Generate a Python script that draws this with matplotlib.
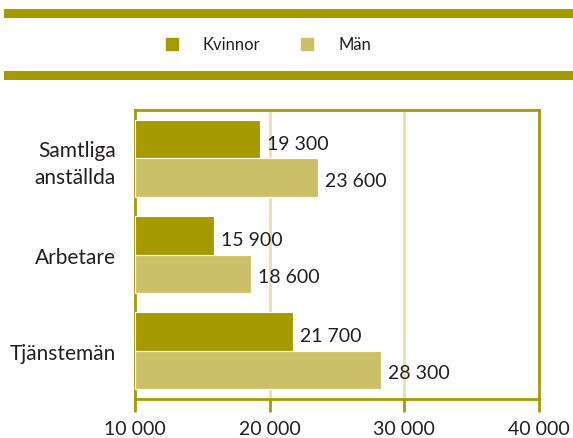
import matplotlib.pyplot as plt
import numpy as np

categories = ['Samtliga\nanställda', 'Arbetare', 'Tjänstemän']
kvinnor = [19300, 15900, 21700]
man = [23600, 18600, 28300]
x_ticks = [10000, 20000, 30000, 40000]
x_tick_labels = ['10 000', '20 000', '30 000', '40 000']

dark = '#A59A00'
light = '#CBC068'
grid_col = '#E8E1B0'
text_col = '#231F20'

plt.rcParams['font.family'] = ['Lato', 'DejaVu Sans']

fig = plt.figure(figsize=(5.73, 4.39), dpi=100)
W, H = 573, 439
ax = fig.add_axes([135 / W, 1 - 400 / H, (539 - 135) / W, (400 - 111) / H])

y = np.arange(len(categories))
h = 0.4
base = 10000
ax.barh(y - h / 2, np.array(kvinnor) - base, left=base, height=h, color=dark,
        edgecolor='white', linewidth=0.8, zorder=3)
ax.barh(y + h / 2, np.array(man) - base, left=base, height=h, color=light,
        edgecolor='white', linewidth=0.8, zorder=3)

def fmt(v):
    return f'{v:,}'.replace(',', ' ')

for i in range(len(categories)):
    ax.annotate(fmt(kvinnor[i]), (kvinnor[i], y[i] - h / 2), xytext=(5, -3),
                textcoords='offset points', va='center', ha='left',
                fontsize=14, color=text_col, zorder=4)
    ax.annotate(fmt(man[i]), (man[i], y[i] + h / 2), xytext=(5, -2),
                textcoords='offset points', va='center', ha='left',
                fontsize=14, color=text_col, zorder=4)

ax.set_xlim(10000, 40000)
ax.set_ylim(2.5, -0.5)
ax.set_yticks(y)
ax.set_yticklabels(categories, fontsize=15, color=text_col, linespacing=1.45)
ax.tick_params(axis='y', length=0, pad=14)
ax.set_xticks(x_ticks)
ax.set_xticklabels(x_tick_labels, fontsize=14, color=text_col)
ax.tick_params(axis='x', length=9, width=2, color=dark, direction='out', pad=6)

for s in ax.spines.values():
    s.set_color(dark)
    s.set_linewidth(2)

for v in [20000, 30000]:
    ax.axvline(v, color=grid_col, linewidth=2, zorder=1)

# header lines and legend
fig.add_artist(plt.Line2D([8 / W, 1], [1 - 14 / H, 1 - 14 / H], color=dark,
                          linewidth=6.5, transform=fig.transFigure))
fig.add_artist(plt.Line2D([8 / W, 1], [1 - 76 / H, 1 - 76 / H], color=dark,
                          linewidth=6.5, transform=fig.transFigure))
sq = 12
for x0, col, lab in [(166, dark, 'Kvinnor'), (301, light, 'Män')]:
    fig.add_artist(plt.Rectangle((x0 / W, 1 - 51 / H), sq / W, sq / H,
                                 color=col, transform=fig.transFigure))
    fig.text((x0 + 37) / W, 1 - 45 / H, lab, fontsize=12, color=text_col,
             va='center', ha='left')

fig.savefig('out.png', dpi=100)
